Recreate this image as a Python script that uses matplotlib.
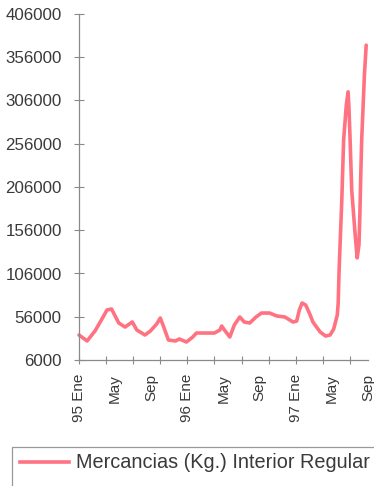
import matplotlib
matplotlib.use("Agg")
import matplotlib.pyplot as plt
from matplotlib.lines import Line2D
from matplotlib.patches import Rectangle

plt.rcParams['font.family'] = ['Liberation Sans', 'DejaVu Sans']

# Position of each reading in months since January 1995
months = [0.0, 0.9, 1.8, 2.6, 3.1, 3.6, 4.0, 4.4, 5.1, 5.9, 6.4, 7.3, 7.9, 8.6,
          9.0, 9.3, 9.9, 10.7, 11.1, 11.9, 12.6, 13.0, 15.0, 15.6, 15.8, 16.1,
          16.7, 17.2, 17.8, 18.3, 18.9, 19.6, 20.2, 21.1, 21.9, 22.8, 23.7,
          24.1, 24.4, 24.7, 25.1, 25.6, 25.9, 26.7, 27.3, 27.8, 28.2, 28.6,
          28.7, 28.8, 29.1, 29.3, 29.6, 29.8, 29.9, 30.0, 30.2, 30.6, 30.8,
          31.0, 31.1, 31.2, 31.3, 31.6, 31.8]
# Goods carried (kg), regular domestic service
cargo_kg = [34900, 28000, 40000, 54500, 63800, 65000, 56900, 48800, 44100,
            50000, 40700, 34900, 39500, 47600, 54500, 46500, 29100, 28000,
            30300, 26800, 32600, 37200, 37200, 40700, 45300, 40700, 32600,
            46500, 55700, 49900, 48800, 55700, 60300, 60300, 56900, 55700,
            49900, 51000, 63800, 71900, 69600, 58000, 49900, 38400, 33700,
            34900, 41800, 58000, 71900, 110000, 191000, 260000, 301000,
            316000, 295000, 266000, 202000, 148000, 124000, 139000, 174000,
            220000, 260000, 335000, 370000]

label_months = [0, 4, 8, 12, 16, 20, 24, 28, 32]
month_labels = ['95 Ene', 'May', 'Sep', '96 Ene', 'May', 'Sep',
                '97 Ene', 'May', 'Sep']
y_ticks = [6000, 56000, 106000, 156000, 206000, 256000, 306000, 356000, 406000]
series_name = 'Mercancias (Kg.) Interior Regular'

line_color = '#ff7282'
axis_color = '#8a8a8a'
text_color = '#3a3a3a'

fig = plt.figure(figsize=(3.74, 4.86), dpi=100)
ax = fig.add_axes([79 / 374, 1 - 360 / 486, (368 - 79) / 374, (360 - 14) / 486])

ax.plot(months, cargo_kg, color=line_color, lw=2.6, solid_joinstyle='round',
        solid_capstyle='round', label=series_name, clip_on=False)

ax.set_xlim(0, 32)
ax.set_ylim(6000, 406000)

for side in ('top', 'right'):
    ax.spines[side].set_visible(False)
for side in ('left', 'bottom'):
    ax.spines[side].set_color(axis_color)
    ax.spines[side].set_linewidth(0.9)

ax.set_yticks(y_ticks)
ax.set_yticklabels([str(v) for v in y_ticks])
ax.tick_params(axis='y', direction='inout', length=7, width=0.8,
               color=axis_color, labelsize=12.2, labelcolor=text_color, pad=9)

ax.xaxis.remove_overlapping_locs = False
ax.set_xticks(label_months)
ax.set_xticklabels(month_labels, rotation=90)
ax.set_xticks(list(range(0, 33, 3)), minor=True)
ax.tick_params(axis='x', which='major', length=0, labelsize=11,
               labelcolor=text_color, pad=10)
ax.tick_params(axis='x', which='minor', direction='inout', length=6,
               width=0.8, color=axis_color)

# Legend box running off the lower right edge of the figure
fig.patches.append(Rectangle((12 / 374, -0.05), 1.0, 0.05 + 1 - 447 / 486,
                             transform=fig.transFigure, fill=False,
                             edgecolor='#999999', lw=0.9))
y_leg = 1 - 462 / 486
fig.lines.append(Line2D([20 / 374, 69 / 374], [y_leg, y_leg],
                        transform=fig.transFigure, color=line_color, lw=2.6))
fig.text(76 / 374, y_leg, series_name, fontsize=14.3, color=text_color,
         va='center', ha='left')

fig.savefig('out.png', dpi=100)
